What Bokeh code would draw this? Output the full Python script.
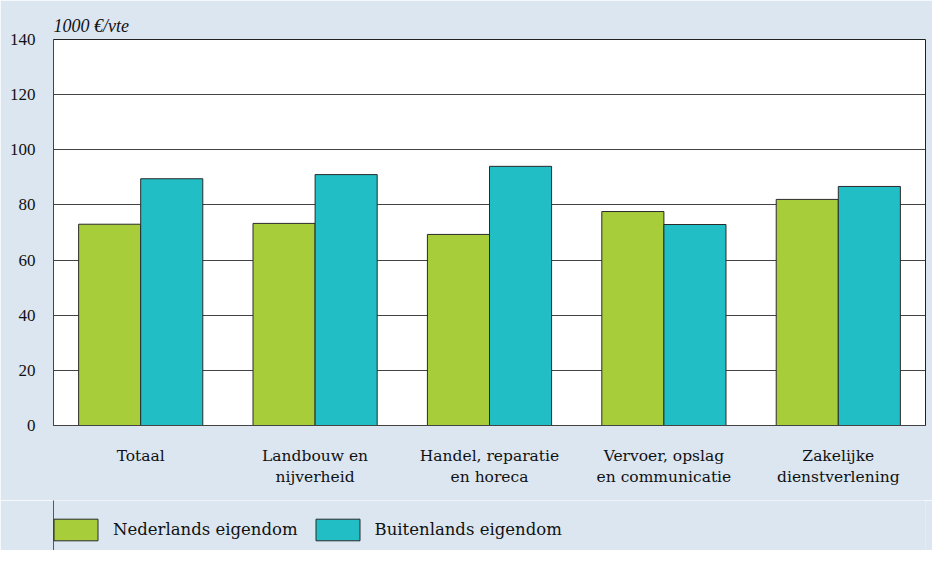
from bokeh.plotting import figure
from bokeh.models import FixedTicker, Legend, LegendItem, Title, ColumnDataSource
from bokeh.layouts import column
from bokeh.embed import file_html
from bokeh.resources import INLINE

categories = ["Totaal", "Landbouw en\nnijverheid", "Handel, reparatie\nen horeca",
              "Vervoer, opslag\nen communicatie", "Zakelijke\ndienstverlening"]
nederlands = [73, 73.3, 69.3, 77.6, 82]
buitenlands = [89.5, 91, 94, 72.9, 86.7]
y_ticks = [0, 20, 40, 60, 80, 100, 120, 140]
series_names = ["Nederlands eigendom", "Buitenlands eigendom"]
unit_label = "1000 €/vte"

GREEN = "#a8cd3a"
TEAL = "#22bec6"
BG = "#dbe6f1"
FONT = "'Liberation Serif', serif"
FONT_W = "'DejaVu Serif', serif"

centers = [i + 0.5 for i in range(len(categories))]
bw = 0.356

p = figure(width=932, height=500, output_backend="svg", toolbar_location=None,
           x_range=(0, len(categories)), y_range=(0, 140),
           min_border_left=53, min_border_right=7, min_border_top=39, min_border_bottom=75)
p.border_fill_color = BG
p.background_fill_color = "white"
p.outline_line_color = "#222222"
p.outline_line_width = 1

src = ColumnDataSource(dict(xg=[c - bw / 2 for c in centers], xt=[c + bw / 2 for c in centers],
                            ned=nederlands, bui=buitenlands))
p.vbar(x="xg", top="ned", width=bw, source=src, fill_color=GREEN, line_color="#2a2a2a", line_width=1)
p.vbar(x="xt", top="bui", width=bw, source=src, fill_color=TEAL, line_color="#2a2a2a", line_width=1)

p.yaxis.ticker = FixedTicker(ticks=y_ticks)
p.xaxis.ticker = FixedTicker(ticks=centers)
p.xaxis.major_label_overrides = {c: lab for c, lab in zip(centers, categories)}
for ax in (p.xaxis[0], p.yaxis[0]):
    ax.major_label_text_color = "#111111"
    ax.major_tick_line_color = None
    ax.minor_tick_line_color = None
    ax.axis_line_color = "#444444"
p.yaxis.major_label_text_font = FONT
p.yaxis.major_label_text_font_size = "17px"
p.yaxis.major_label_standoff = 12
p.xaxis.major_label_text_font = FONT_W
p.xaxis.major_label_text_font_size = "15.5px"
p.xaxis.major_label_standoff = 15
p.xgrid.grid_line_color = None
p.ygrid.ticker = FixedTicker(ticks=y_ticks)
p.ygrid.grid_line_color = "#222222"
p.ygrid.grid_line_alpha = 0.85

p.add_layout(Title(text=unit_label, text_font=FONT, text_font_style="italic",
                   text_font_size="18px", text_color="#111111", align="left",
                   standoff=8, offset=0), "above")

# legend strip below the chart
lf = figure(width=932, height=50, output_backend="svg", toolbar_location=None,
            x_range=(0, 1), y_range=(0, 1), min_border=0, min_border_left=53, min_border_right=7,
            x_axis_location=None, y_axis_location=None)
lf.grid.visible = False
lf.outline_line_color = None
lf.background_fill_color = BG
lf.border_fill_color = BG
hidden = ColumnDataSource(dict(x=[-5], top=[1]))
g1 = lf.vbar(x="x", top="top", width=0.1, source=hidden,
             fill_color=GREEN, line_color="#2a2a2a", line_width=1)
g2 = lf.vbar(x="x", top="top", width=0.1, source=hidden,
             fill_color=TEAL, line_color="#2a2a2a", line_width=1)
legend = Legend(items=[LegendItem(label=series_names[0], renderers=[g1]),
                       LegendItem(label=series_names[1], renderers=[g2])],
                orientation="horizontal", location=(-5, 7),
                glyph_width=55, glyph_height=27, label_standoff=10, spacing=12,
                label_text_font=FONT_W, label_text_font_size="16.5px", label_text_color="#111111",
                border_line_color=None, background_fill_alpha=0, margin=0, padding=0)
lf.add_layout(legend, "center")

open("out.html", "w").write(file_html(column(p, lf, spacing=0), INLINE))
